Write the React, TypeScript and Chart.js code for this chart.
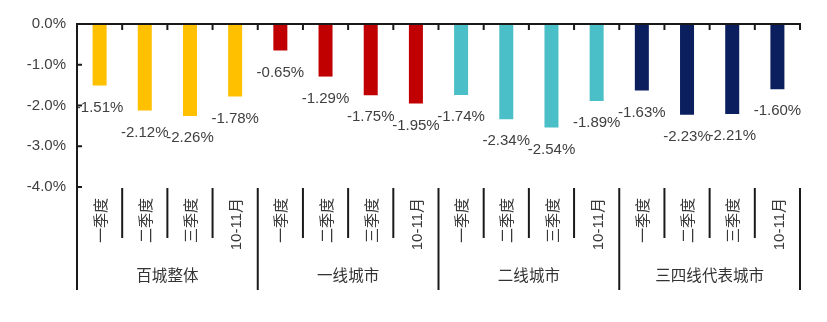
import React, { useEffect, useRef } from "react";
import { Chart, registerables } from "chart.js";

Chart.register(...registerables);

const quarters = ["一季度", "二季度", "三季度", "10-11月"];
const groups = ["百城整体", "一线城市", "二线城市", "三四线代表城市"];
const overall = [-1.51, -2.12, -2.26, -1.78];
const tier1 = [-0.65, -1.29, -1.75, -1.95];
const tier2 = [-1.74, -2.34, -2.54, -1.89];
const tier34 = [-1.63, -2.23, -2.21, -1.6];
const groupColors = ["#FFC000", "#C00000", "#4BBFC7", "#0B1F5E"];
const yTicks = [0, -1, -2, -3, -4];

const FONT = "'Liberation Sans', 'Noto Sans CJK SC', Arial, sans-serif";

export default function App() {
  const ref = useRef<HTMLCanvasElement | null>(null);

  useEffect(() => {
    const canvas = ref.current;
    if (!canvas) return;
    const series = [overall, tier1, tier2, tier34];
    const values = series.flat();
    const labels = groups.flatMap(() => quarters);
    const colors = series.flatMap((s, gi) => s.map(() => groupColors[gi]));

    const decor = {
      id: "decor",
      afterDatasetsDraw(chart: any) {
        const { ctx } = chart;
        const meta = chart.getDatasetMeta(0);
        ctx.save();
        ctx.fillStyle = "#404040";
        ctx.font = `15px ${FONT}`;
        ctx.textAlign = "center";
        ctx.textBaseline = "middle";
        meta.data.forEach((bar: any, i: number) => {
          ctx.fillText(values[i].toFixed(2) + "%", bar.x, bar.y + 22);
        });
        ctx.restore();
      },
      afterDraw(chart: any) {
        const { ctx, chartArea: ca, scales } = chart;
        const x = scales.x;
        const y = scales.y;
        const n = labels.length;
        const slot = (ca.right - ca.left) / n;
        const bound = (k: number) =>
          k < n ? x.getPixelForValue(k) - slot / 2 : x.getPixelForValue(n - 1) + slot / 2;
        ctx.save();
        ctx.strokeStyle = "#1a1a1a";
        ctx.lineWidth = 2;
        const ln = (x1: number, y1: number, x2: number, y2: number) => {
          ctx.beginPath();
          ctx.moveTo(x1, y1);
          ctx.lineTo(x2, y2);
          ctx.stroke();
        };
        const y0 = y.getPixelForValue(0);
        ln(ca.left, y0, bound(n) + 1, y0);
        for (let k = 0; k <= n; k++) {
          const bx = bound(k);
          ln(bx, y0, bx, y0 + 6);
        }
        ln(ca.left, y0 - 1, ca.left, ca.bottom + 103);
        yTicks.forEach((v) => {
          const py = y.getPixelForValue(v);
          ln(ca.left, py, ca.left + 5, py);
        });
        for (let k = 1; k <= n; k++) {
          const bx = bound(k);
          const long = k % quarters.length === 0;
          ln(bx, ca.bottom + 1, bx, ca.bottom + (long ? 103 : 51));
        }
        ctx.fillStyle = "#333333";
        ctx.font = `15.5px ${FONT}`;
        ctx.textAlign = "center";
        ctx.textBaseline = "middle";
        groups.forEach((g, gi) => {
          const cx = (bound(gi * 4) + bound(gi * 4 + 4)) / 2;
          ctx.fillText(g, cx, ca.bottom + 90);
        });
        ctx.restore();
      },
    };

    const chart = new Chart(canvas, {
      type: "bar",
      data: {
        labels,
        datasets: [
          {
            data: values,
            backgroundColor: colors,
            borderWidth: 0,
            categoryPercentage: 1,
            barPercentage: 0.31,
          },
        ],
      },
      options: {
        responsive: false,
        animation: false,
        maintainAspectRatio: false,
        layout: { padding: { left: 0, top: 24, right: 27, bottom: 0 } },
        plugins: { legend: { display: false }, tooltip: { enabled: false } },
        scales: {
          x: {
            grid: { display: false, drawTicks: false },
            border: { display: false },
            ticks: {
              autoSkip: false,
              minRotation: 90,
              maxRotation: 90,
              padding: 11,
              labelOffset: 2,
              color: "#383838",
              font: { size: 15, family: FONT },
            },
            afterFit: (s: any) => {
              s.height = 135;
            },
          },
          y: {
            min: -4,
            max: 0,
            grid: { display: false, drawTicks: false },
            border: { display: false },
            ticks: {
              stepSize: 1,
              padding: 11,
              color: "#404040",
              font: { size: 15, family: FONT },
              callback: (v: any) => Number(v).toFixed(1) + "%",
            },
            afterFit: (s: any) => {
              s.width = 77;
            },
          },
        },
      },
      plugins: [decor],
    });
    return () => chart.destroy();
  }, []);

  return (
    <div style={{ position: "fixed", left: 0, top: 0, width: 827, height: 322, background: "#fff" }}>
      <canvas ref={ref} width={827} height={322} />
    </div>
  );
}
